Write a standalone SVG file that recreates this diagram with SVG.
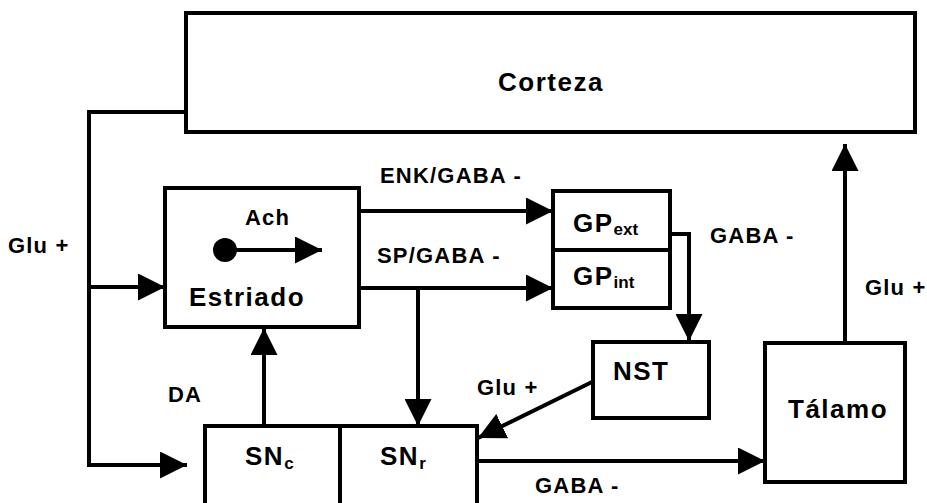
<svg xmlns="http://www.w3.org/2000/svg" width="927" height="503" viewBox="0 0 927 503">
<style>
.box{fill:#fff;stroke:#000;stroke-width:4}
.ln{fill:none;stroke:#000;stroke-width:4}
text{font-family:"Liberation Sans",Arial,sans-serif;font-weight:bold;fill:#000}
.lb{font-size:22px;letter-spacing:1.2px}
.nd{font-size:26px;letter-spacing:1.5px}
.sub{font-size:17px;letter-spacing:0}
</style>
<defs>
<marker id="ah" viewBox="0 0 27 27" refX="27" refY="13.5" markerWidth="27" markerHeight="27" orient="auto" markerUnits="userSpaceOnUse">
<path d="M0,0 L27,13.5 L0,27 Z" fill="#000"/>
</marker>
</defs>
<g id="corteza">
<rect class="box" x="186" y="13" width="729" height="119"/>
<text class="nd" x="498" y="91">Corteza</text>
</g>
<g id="estriado">
<rect class="box" x="165" y="188" width="194" height="139"/>
<text class="lb" x="245" y="225" font-size="23">Ach</text>
<circle cx="225" cy="250" r="12" fill="#000"/>
<line class="ln" x1="225" y1="250" x2="322" y2="250" marker-end="url(#ah)"/>
<text class="nd" x="189" y="306">Estriado</text>
</g>
<g id="gp">
<rect class="box" x="553" y="191" width="117" height="117"/>
<line class="ln" x1="553" y1="250" x2="670" y2="250"/>
<text class="nd" x="573" y="232" letter-spacing="1">GP<tspan class="sub" dy="3">ext</tspan></text>
<text class="nd" x="573" y="285" letter-spacing="1">GP<tspan class="sub" dy="3">int</tspan></text>
</g>
<g id="nst">
<rect class="box" x="593" y="342" width="116" height="76"/>
<text class="nd" x="613" y="380" font-size="27" letter-spacing="0">NST</text>
</g>
<g id="talamo">
<rect class="box" x="765" y="343" width="140" height="139"/>
<text class="nd" x="788" y="418">Tálamo</text>
</g>
<g id="sn">
<rect class="box" x="205" y="426" width="272" height="80"/>
<line class="ln" x1="340" y1="426" x2="340" y2="503"/>
<text class="nd" x="245" y="465" font-size="27" letter-spacing="0">SN<tspan class="sub" dy="4" font-size="19">c</tspan></text>
<text class="nd" x="380" y="465" font-size="27" letter-spacing="0">SN<tspan class="sub" dy="4" font-size="19">r</tspan></text>
</g>
<g id="connectors">
<path class="ln" d="M186,112 H89 V465 H187" marker-end="url(#ah)"/>
<path class="ln" d="M89,287 H165" marker-end="url(#ah)"/>
<path class="ln" d="M359,211 H553" marker-end="url(#ah)"/>
<path class="ln" d="M359,288 H553" marker-end="url(#ah)"/>
<path class="ln" d="M418,288 V426" marker-end="url(#ah)"/>
<path class="ln" d="M670,234 H689 V341" marker-end="url(#ah)"/>
<path class="ln" d="M592,382 L478,438" marker-end="url(#ah)"/>
<path class="ln" d="M264,426 V328" marker-end="url(#ah)"/>
<path class="ln" d="M477,461 H765" marker-end="url(#ah)"/>
<path class="ln" d="M845,343 V144" marker-end="url(#ah)"/>
</g>
<g id="labels">
<text class="lb" x="8" y="253" letter-spacing="0.5">Glu +</text>
<text class="lb" x="380" y="183" letter-spacing="1.4">ENK/GABA -</text>
<text class="lb" x="377" y="263" letter-spacing="1.6">SP/GABA -</text>
<text class="lb" x="710" y="243">GABA -</text>
<text class="lb" x="865" y="295" letter-spacing="0.5">Glu +</text>
<text class="lb" x="168" y="402">DA</text>
<text class="lb" x="477" y="395" letter-spacing="0.5">Glu +</text>
<text class="lb" x="535" y="493">GABA -</text>
</g>
</svg>
